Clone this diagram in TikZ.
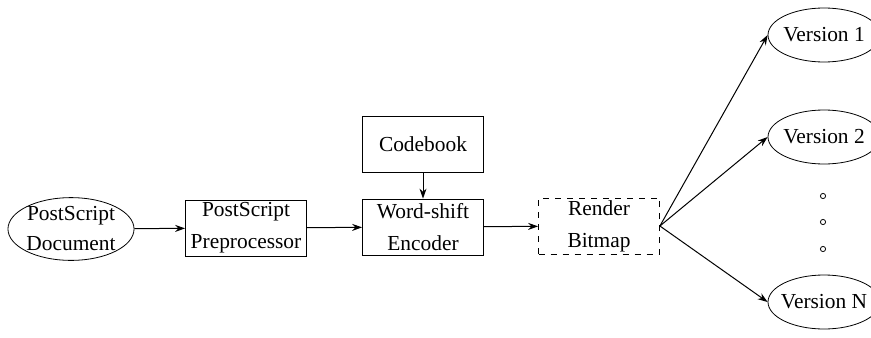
\documentclass[tikz,border=0pt]{standalone}
\usepackage{fontspec}
\setmainfont{Liberation Serif}
\usetikzlibrary{arrows.meta,shapes.geometric}
\tikzset{
  blk/.style={draw, minimum width=60.5pt, minimum height=28pt, inner sep=0pt, align=center,
    font=\fontsize{10.7}{16}\selectfont},
  doc/.style={draw, ellipse, minimum width=61pt, minimum height=30pt, inner sep=0pt, align=center,
    font=\fontsize{10.7}{15}\selectfont},
  ver/.style={draw, ellipse, minimum width=56pt, minimum height=27pt, inner sep=0pt,
    font=\fontsize{10.7}{13}\selectfont},
  flow/.style={-{Stealth[length=5pt,width=3.5pt]}, line width=0.5pt}
}
\begin{document}
\begin{tikzpicture}[x=0.5pt,y=-0.5pt]
      \useasboundingbox (0,0) rectangle (871,337);
      \draw
        (71,229) node[doc] (psdoc){PostScript\\Document}
        (246,228) node[blk] (prep){PostScript\\Preprocessor}
        (423,144) node[blk] (codebook){Codebook}
        (423,227) node[blk] (encoder){Word-shift\\Encoder}
        (599,226) node[blk, dashed] (render){Render\\Bitmap}
        (824,35) node[ver] (v1){\makebox[0pt]{Version 1}}
        (824,137) node[ver] (v2){\makebox[0pt]{Version 2}}
        (824,302) node[ver] (vn){\makebox[0pt]{Version N}};
      \foreach \y in {196,222,249}
        \draw (823,\y) circle (1.3pt);
      \begin{scope}[flow]
        \draw (psdoc) to (prep);
        \draw (prep) to (encoder);
        \draw (codebook) to (encoder);
        \draw (encoder) to (render);
        \draw (render.east) to (v1.west);
        \draw (render.east) to (v2.west);
        \draw (render.east) to (vn.west);
      \end{scope}
    \end{tikzpicture}
\end{document}
